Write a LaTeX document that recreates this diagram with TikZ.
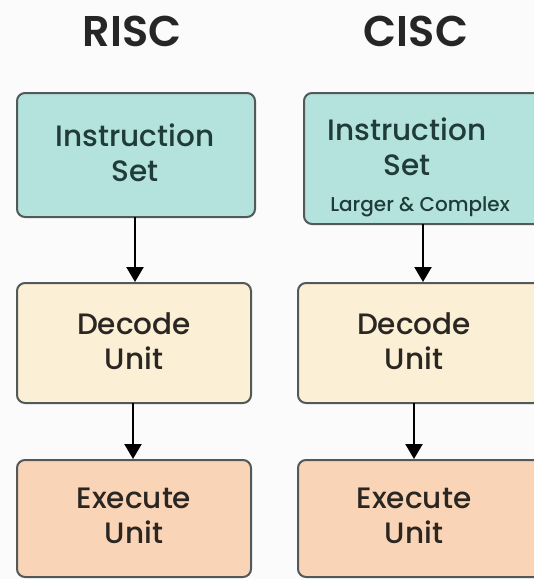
\documentclass[tikz,border=0pt]{standalone}
\usepackage{fontspec}
\setmainfont{Poppins}
\newfontfamily\titlefont{Poppins}[UprightFont=* SemiBold]
\newfontfamily\boxfont{Poppins}[UprightFont=* Medium]
\usetikzlibrary{arrows.meta}
\definecolor{bgcol}{HTML}{FBFBFB}
\definecolor{edgecol}{HTML}{535858}
\definecolor{instrfill}{HTML}{B4E3DD}
\definecolor{decodefill}{HTML}{FBF0D6}
\definecolor{execfill}{HTML}{FAD4B6}
\definecolor{inktext}{HTML}{2A2622}
\definecolor{instrtext}{HTML}{1F3B3A}
\tikzset{
  stage/.style={draw=edgecol, line width=2pt, rounded corners=8pt,
    inner sep=0pt, minimum width=#1, minimum height=120pt},
  stage/.default=235pt,
  title/.style={font=\titlefont\fontsize{43}{46}\selectfont, text=black!85, anchor=base},
  label/.style={font=\boxfont\fontsize{29.5}{35}\selectfont, align=center, text=inktext},
  sublabel/.style={font=\boxfont\fontsize{20}{22}\selectfont, text=instrtext, anchor=base},
  flow/.style={-{Triangle[width=17pt,length=15pt]}, line width=2.2pt, black}
}
\begin{document}
\begin{tikzpicture}[x=1pt,y=-1pt]
  \fill[bgcol] (0,0) rectangle (534,579);
  \useasboundingbox (0,0) rectangle (534,579);
  \begin{scope}
    \clip (0,0) rectangle (534,579);
    % column titles
    \node[title] (trisc) at (132,46) {RISC};
    \node[title] (tcisc) at (416,46) {CISC};
    % RISC pipeline
    \node[stage=238pt, minimum height=124pt, fill=instrfill] (li) at (136,155) {};
    \node[stage=234pt, fill=decodefill] (ld) at (134,343) {};
    \node[stage=234pt, minimum height=117pt, fill=execfill] (le) at (134,518.5) {};
    \node[label, text=instrtext] (lit) at (135,153) {Instruction\\Set};
    \node[label] (ldt) at (134,341) {Decode\\Unit};
    \node[label] (let) at (134,516) {Execute\\Unit};
    % CISC pipeline
    \node[stage=244pt, minimum height=131pt, fill=instrfill] (ri) at (426,158.5) {};
    \node[stage=244pt, fill=decodefill] (rd) at (420,343) {};
    \node[stage=244pt, minimum height=117pt, fill=execfill] (re) at (420,518.5) {};
    \node[label, text=instrtext] (rit) at (407,147) {Instruction\\Set};
    \node[sublabel] (ris) at (420,211) {Larger \& Complex};
    \node[label] (rdt) at (414,341) {Decode\\Unit};
    \node[label] (ret) at (414,516) {Execute\\Unit};
    % connectors
    \draw[flow] (135,217) coordinate (lib) -- (lib |- ld.north);
    \draw[flow] (133,403) coordinate (ldb) -- (ldb |- le.north);
    \draw[flow] (423,224) coordinate (rib) -- (rib |- rd.north);
    \draw[flow] (414,403) coordinate (rdb) -- (rdb |- re.north);
  \end{scope}
\end{tikzpicture}
\end{document}
